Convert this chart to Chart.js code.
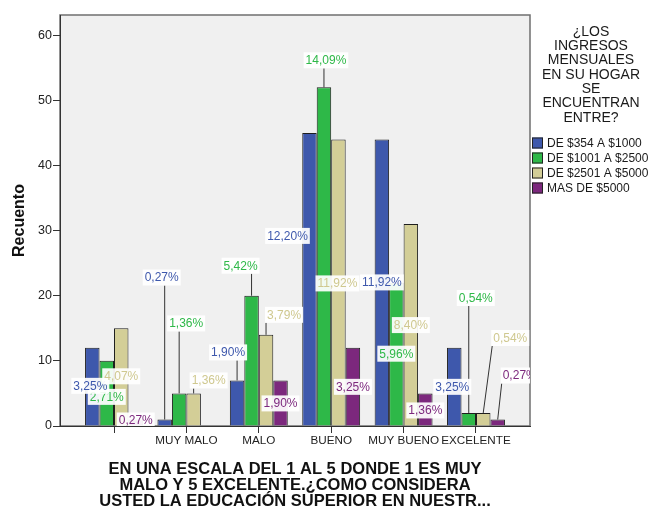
<!DOCTYPE html>
<html>
<head>
<meta charset="utf-8">
<script src="https://cdn.jsdelivr.net/npm/chart.js@4.4.1/dist/chart.umd.min.js"></script>
<style>
  body { margin: 0; background: #fff; }
  canvas { display: block; }
</style>
</head>
<body>
<canvas id="grafico" width="651" height="509"></canvas>
<script>
// Recuento por categoría y por rango de ingresos
const categorias = ['', 'MUY MALO', 'MALO', 'BUENO', 'MUY BUENO', 'EXCELENTE'];
const rangos = ['DE $354 A $1000', 'DE $1001 A $2500', 'DE $2501 A $5000', 'MAS DE $5000'];
const de354a1000 = [12, 1, 7, 45, 44, 12];
const de1001a2500 = [10, 5, 20, 52, 22, 2];
const de2501a5000 = [15, 5, 14, 44, 31, 2];
const masDe5000 = [1, 0, 7, 12, 5, 1];
const tituloLeyenda = ['¿LOS', 'INGRESOS', 'MENSUALES', 'EN SU HOGAR', 'SE', 'ENCUENTRAN', 'ENTRE?'];
const tituloX = ['EN UNA ESCALA DEL 1 AL 5 DONDE 1 ES MUY', 'MALO Y 5 EXCELENTE.¿COMO CONSIDERA', 'USTED LA EDUCACIÓN SUPERIOR EN NUESTR...'];

const colores = ['#3e58ac', '#2eb848', '#d3ce97', '#7c287d'];
const coloresTexto = ['#3e58ac', '#2eb848', '#cfc88f', '#7c287d'];
const FUENTE = '"Liberation Sans", Arial, sans-serif';

const series = [de354a1000, de1001a2500, de2501a5000, masDe5000];
const total = series.reduce((s, arr) => s + arr.reduce((a, b) => a + b, 0), 0);

// desplazamiento de cada etiqueta respecto al tope de su barra [dx, dy, línea guía]
const posEtiquetas = [
  [[-2, 38, 0], [-3, -142, 1], [-9, -28, 1], [-22, 103, 0], [0, 143, 0], [-2, 39, 0]],
  [[0, 36, 0], [7, -70, 1], [-11, -30, 1], [2, -27, 1], [0, 71, 0], [7, -115, 1]],
  [[0, 48, 0], [15, -13, 1], [18, -20, 1], [-1, 144, 0], [0, 101, 0], [27, -75, 1]],
  [[0, 1, 0], null, [0, 23, 0], [0, 39, 0], [0, 17, 0], [22, -44, 1]]
];
const ordenEtiquetas = [1, 0, 2, 3];

function pct(v) {
  return (v / total * 100).toFixed(2).replace('.', ',') + '%';
}

const marco = {
  id: 'marco',
  beforeDraw(chart) {
    const { ctx, chartArea: a } = chart;
    ctx.save();
    ctx.fillStyle = '#f0f0f0';
    ctx.fillRect(a.left, a.top, a.right - a.left, a.bottom - a.top);
    ctx.strokeStyle = '#6f6f6f';
    ctx.lineWidth = 1.5;
    ctx.strokeRect(a.left, a.top, a.right - a.left, a.bottom - a.top);
    ctx.restore();
  }
};

const etiquetas = {
  id: 'etiquetas',
  afterDatasetsDraw(chart) {
    const { ctx, chartArea: a } = chart;
    ctx.save();
    ctx.beginPath();
    ctx.rect(a.left, a.top, a.right - a.left, a.bottom - a.top);
    ctx.clip();
    ctx.font = '12px ' + FUENTE;
    ctx.textAlign = 'center';
    ctx.textBaseline = 'middle';
    ordenEtiquetas.forEach(d => {
      const meta = chart.getDatasetMeta(d);
      meta.data.forEach((barra, i) => {
        const v = series[d][i];
        const p = posEtiquetas[d][i];
        if (!v || !p) return;
        const txt = pct(v);
        const w = ctx.measureText(txt).width + 4, h = 16;
        const cx = barra.x + p[0], cy = barra.y + p[1];
        if (p[2]) {
          const lx = Math.min(Math.max(barra.x, cx - w / 2 + 1), cx + w / 2 - 1);
          const ly = barra.y > cy ? cy + h / 2 : cy - h / 2;
          ctx.strokeStyle = '#333';
          ctx.lineWidth = 1;
          ctx.beginPath();
          ctx.moveTo(lx, ly);
          ctx.lineTo(barra.x, barra.y);
          ctx.stroke();
        }
        ctx.fillStyle = 'rgba(255,255,255,0.93)';
        ctx.fillRect(cx - w / 2, cy - h / 2, w, h);
        ctx.fillStyle = coloresTexto[d];
        ctx.fillText(txt, cx, cy + 0.5);
      });
    });
    ctx.restore();
  }
};

const leyenda = {
  id: 'leyenda',
  afterDraw(chart) {
    const { ctx } = chart;
    ctx.save();
    ctx.fillStyle = '#1a1a1a';
    ctx.textBaseline = 'middle';
    ctx.textAlign = 'center';
    ctx.font = '14px ' + FUENTE;
    tituloLeyenda.forEach((t, k) => ctx.fillText(t, 591, 32 + k * 14.3));
    ctx.textAlign = 'left';
    ctx.font = '12px ' + FUENTE;
    chart.data.datasets.forEach((ds, k) => {
      const y = 143 + k * 15;
      ctx.fillStyle = ds.backgroundColor;
      ctx.fillRect(532, y - 5.5, 11, 11);
      ctx.strokeStyle = '#222';
      ctx.lineWidth = 1;
      ctx.strokeRect(532.5, y - 5, 10, 10);
      ctx.fillStyle = '#1a1a1a';
      ctx.fillText(ds.label, 547, y + 0.5);
    });
    ctx.restore();
  }
};

new Chart(document.getElementById('grafico'), {
  type: 'bar',
  data: {
    datasets: series.map((arr, k) => ({
      label: rangos[k],
      data: arr.map((v, i) => ({ x: i, y: v })),
      backgroundColor: colores[k],
      borderColor: '#1e1e1e',
      borderWidth: 1,
      categoryPercentage: 0.8,
      barPercentage: 1
    }))
  },
  options: {
    responsive: false,
    animation: false,
    devicePixelRatio: 1,
    layout: { padding: { top: 15, right: 121, left: 0, bottom: 0 } },
    plugins: { legend: { display: false }, tooltip: { enabled: false } },
    scales: {
      x: {
        type: 'linear',
        min: -0.746,
        max: 5.746,
        offset: false,
        afterFit(s) { s.height = 83; },
        ticks: {
          stepSize: 1,
          includeBounds: false,
          autoSkip: false,
          maxRotation: 0,
          padding: 1,
          color: '#222',
          font: { family: FUENTE, size: 11.7 },
          callback: v => Number.isInteger(v) ? categorias[v] : ''
        },
        grid: { offset: false, drawOnChartArea: false, tickLength: 7, color: '#333' },
        border: { display: true, color: '#333', width: 1 },
        title: {
          display: true,
          text: tituloX,
          color: '#111',
          font: { family: FUENTE, size: 16.5, weight: 'bold', lineHeight: '16px' },
          padding: { top: 4, bottom: 0 }
        }
      },
      y: {
        min: 0,
        max: 63.1,
        afterFit(s) { s.width = 60; },
        ticks: {
          stepSize: 10,
          includeBounds: false,
          padding: 1,
          color: '#222',
          font: { family: FUENTE, size: 12.5 }
        },
        grid: { drawOnChartArea: false, tickLength: 7, color: '#333' },
        border: { display: true, color: '#333', width: 1 },
        title: {
          display: true,
          text: 'Recuento',
          color: '#111',
          font: { family: FUENTE, size: 16, weight: 'bold' },
          padding: { top: 10, bottom: 0 }
        }
      }
    }
  },
  plugins: [marco, etiquetas, leyenda]
});
</script>
</body>
</html>
